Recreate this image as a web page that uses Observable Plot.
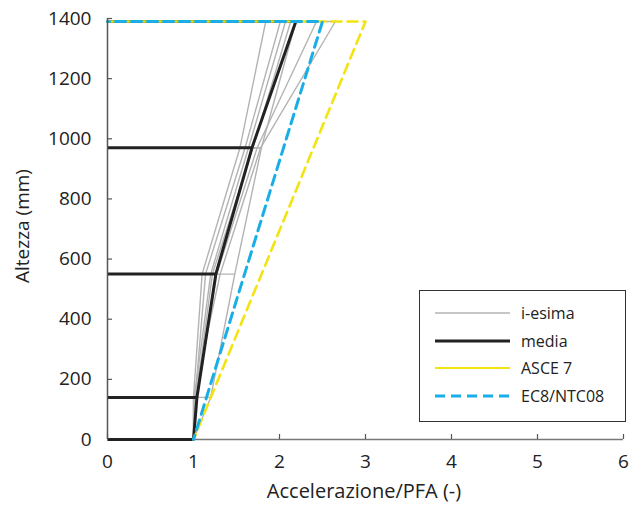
<!DOCTYPE html>
<html><head><meta charset="utf-8">
<script src="https://cdn.jsdelivr.net/npm/d3@7"></script>
<script src="https://cdn.jsdelivr.net/npm/@observablehq/plot@0.6"></script>
<style>body{margin:0;background:#fff;} svg{display:block;}</style>
</head><body><div id="chart"></div>
<script>
const heights = [0, 140, 550, 970, 1390];
const profiles = [
  [1, 1.00, 1.10, 1.54, 1.84],
  [1, 1.02, 1.14, 1.60, 2.01],
  [1, 1.01, 1.20, 1.64, 2.07],
  [1, 1.03, 1.22, 1.69, 2.13],
  [1, 1.04, 1.27, 1.74, 2.43],
  [1, 1.00, 1.31, 1.78, 2.65],
  [1, 1.20, 1.48, 1.79, 2.19]
];
const media = [1, 1.04, 1.26, 1.68, 2.19];
const codeHeights = [0, 1390];
const asce7 = [1, 3];
const ec8 = [1, 2.5];
const xTicks = [0, 1, 2, 3, 4, 5, 6];
const yTicks = [0, 200, 400, 600, 800, 1000, 1200, 1400];
const legendLabels = ["i-esima", "media", "ASCE 7", "EC8/NTC08"];

const W = 629, H = 510, mL = 107, mR = 6, mT = 18, mB = 71;
const iW = W - mL - mR, iH = H - mT - mB;

const grey = "#b3b3b3", black = "#222", yellow = "#f2e311", blue = "#19aee6";

function pts(vals, hs, id) { return vals.map((v, i) => ({x: v, y: hs[i], id})); }
function codePts(vals) {
  return [{x: 0, y: codeHeights[1]}, {x: vals[1], y: codeHeights[1]}, {x: vals[0], y: codeHeights[0]}];
}

const greyPts = profiles.flatMap((p, k) => pts(p, heights, k));
const mediaPts = pts(media, heights, 0);

const chart = Plot.plot({
  width: W, height: H,
  marginLeft: mL, marginRight: mR, marginTop: mT, marginBottom: mB,
  style: {fontFamily: "'Open Sans', sans-serif", fontSize: "19px", color: "#222", background: "#fff"},
  x: {domain: [0, 6], ticks: xTicks, tickFormat: "d", tickSize: 0, tickPadding: 15, label: null},
  y: {domain: [0, 1400], ticks: yTicks, tickFormat: "d", tickSize: 0, tickPadding: 16, label: null},
  marks: [
    Plot.ruleY([0], {stroke: "#777", strokeWidth: 1.5}),
    Plot.tickX(xTicks, {x: d => d, insetTop: iH - 5, stroke: "#555", strokeWidth: 1.2}),
    Plot.tickY(yTicks, {y: d => d, insetRight: iW - 5, stroke: "#555", strokeWidth: 1.2}),
    Plot.link(greyPts, {x1: 0, x2: "x", y1: "y", y2: "y", stroke: grey, strokeWidth: 1.4}),
    Plot.line(greyPts, {x: "x", y: "y", z: "id", stroke: grey, strokeWidth: 1.4}),
    Plot.link(mediaPts, {x1: 0, x2: "x", y1: "y", y2: "y", stroke: black, strokeWidth: 3}),
    Plot.line(mediaPts, {x: "x", y: "y", stroke: black, strokeWidth: 3}),
    Plot.line(codePts(asce7), {x: "x", y: "y", stroke: yellow, strokeWidth: 2.6, strokeDasharray: "10,6"}),
    Plot.line(codePts(ec8), {x: "x", y: "y", stroke: blue, strokeWidth: 3, strokeDasharray: "10,6", strokeDashoffset: 8}),
    Plot.ruleX([0], {stroke: "#555", strokeWidth: 1.5})
  ]
});

const svg = d3.select(chart);
const font = "'Open Sans', sans-serif";
svg.append("text").attr("x", 364).attr("y", 498).attr("text-anchor", "middle")
  .attr("font-family", font).attr("font-size", 20).attr("fill", "#222")
  .text("Accelerazione/PFA (-)");
svg.append("text").attr("transform", "translate(29,226) rotate(-90)").attr("text-anchor", "middle")
  .attr("font-family", font).attr("font-size", 19).attr("fill", "#222")
  .text("Altezza (mm)");

const lg = svg.append("g");
lg.append("rect").attr("x", 419.5).attr("y", 290.5).attr("width", 206).attr("height", 131)
  .attr("fill", "#fff").attr("stroke", "#333").attr("stroke-width", 1);
const styles = [
  {stroke: grey, w: 1.4, dash: null},
  {stroke: black, w: 3, dash: null},
  {stroke: yellow, w: 2, dash: null},
  {stroke: blue, w: 3, dash: "10,6"}
];
const rowsY = [313, 341, 368, 396];
legendLabels.forEach((t, i) => {
  const s = styles[i];
  const l = lg.append("line").attr("x1", 435).attr("x2", 510).attr("y1", rowsY[i]).attr("y2", rowsY[i])
    .attr("stroke", s.stroke).attr("stroke-width", s.w);
  if (s.dash) l.attr("stroke-dasharray", s.dash);
  lg.append("text").attr("x", 521).attr("y", rowsY[i]).attr("dy", "0.35em").attr("text-anchor", "start")
    .attr("font-family", font).attr("font-size", 16).attr("fill", "#222").text(t);
});

document.getElementById("chart").appendChild(chart);
</script>
</body></html>
